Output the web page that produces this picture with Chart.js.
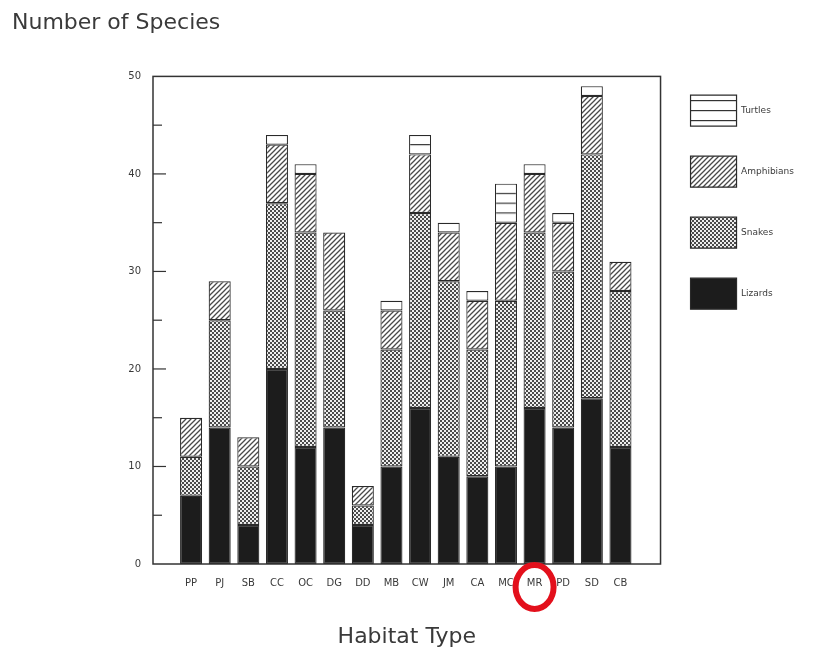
<!DOCTYPE html>
<html>
<head>
<meta charset="utf-8">
<script src="https://cdn.jsdelivr.net/npm/chart.js@4.4.1/dist/chart.umd.min.js"></script>
<style>
  body { margin: 0; background: #fff; }
  canvas { display: block; }
</style>
</head>
<body>
<canvas id="chart" width="818" height="654"></canvas>
<script>
const habitats = ["PP", "PJ", "SB", "CC", "OC", "DG", "DD", "MB", "CW", "JM", "CA", "MC", "MR", "PD", "SD", "CB"];
const lizards = [7, 14, 4, 20, 12, 14, 4, 10, 16, 11, 9, 10, 16, 14, 17, 12];
const snakes = [4, 11, 6, 17, 22, 12, 2, 12, 20, 18, 13, 17, 18, 16, 25, 16];
const amphibians = [4, 4, 3, 6, 6, 8, 2, 4, 6, 5, 5, 8, 6, 5, 6, 3];
const turtles = [0, 0, 0, 1, 1, 0, 0, 1, 2, 1, 1, 4, 1, 1, 1, 0];
const yTicks = [0, 10, 20, 30, 40, 50];
const circled = "MR";

const ink = "#1c1c1c";
const textCol = "#3a3a3a";
const fontFam = "'DejaVu Sans', sans-serif";

// small tile canvases for the fills
const makePattern = (w, h, paint) => {
  const c = document.createElement("canvas");
  c.width = w;
  c.height = h;
  const g = c.getContext("2d");
  paint(g, w, h);
  return g.createPattern(c, "repeat");
};

// checker of 2px cells, reads as mid grey like the scan
const dotted = makePattern(4, 4, (g, w, h) => {
  g.fillStyle = "#eeeeee";
  g.fillRect(0, 0, w, h);
  g.fillStyle = "#4a4a4a";
  g.fillRect(0, 0, 2, 2);
  g.fillRect(2, 2, 2, 2);
});

const hatched = makePattern(5, 5, (g, w, h) => {
  g.fillStyle = "#fff";
  g.fillRect(0, 0, w, h);
  g.strokeStyle = "#4a4a4a";
  g.lineWidth = 1.3;
  g.beginPath();
  g.moveTo(-1, h + 1);
  g.lineTo(w + 1, -1);
  g.moveTo(-1, 1);
  g.lineTo(1, -1);
  g.moveTo(w - 1, h + 1);
  g.lineTo(w + 1, h - 1);
  g.stroke();
});

// one line per species; stretched to one y unit once the scale is known
const striped = makePattern(4, 10, (g, w, h) => {
  g.fillStyle = "#fff";
  g.fillRect(0, 0, w, h);
  g.fillStyle = "#333";
  g.fillRect(0, 0, w, 1.2);
});

const pts = (arr) => arr.map((v, i) => ({ x: i, y: v }));

const series = [
  { label: "Lizards", data: pts(lizards), backgroundColor: ink },
  { label: "Snakes", data: pts(snakes), backgroundColor: dotted },
  { label: "Amphibians", data: pts(amphibians), backgroundColor: hatched },
  { label: "Turtles", data: pts(turtles), backgroundColor: striped },
].map((d) => ({
  ...d,
  borderColor: "#2a2a2a",
  borderWidth: 1.2,
  borderSkipped: false,
  categoryPercentage: 1,
  barPercentage: 0.77,
}));

const frame = {
  id: "frame",
  beforeDatasetsDraw(chart) {
    const y = chart.scales.y;
    const y0 = y.getPixelForValue(0);
    const unit = y0 - y.getPixelForValue(1);
    striped.setTransform(new DOMMatrix().translate(0, y0 - 0.6).scale(1, unit / 10));
  },
  afterDatasetsDraw(chart) {
    const { ctx, chartArea: a, scales } = chart;
    const y = scales.y;
    ctx.save();
    ctx.strokeStyle = "#333";
    ctx.lineWidth = 1.5;
    ctx.strokeRect(a.left, a.top, a.right - a.left, a.bottom - a.top);
    ctx.lineWidth = 1.2;
    for (const t of y.ticks) {
      if (t.value === 0 || t.value === 50) continue;
      const py = y.getPixelForValue(t.value);
      ctx.beginPath();
      ctx.moveTo(a.left, py);
      ctx.lineTo(a.left + (yTicks.includes(t.value) ? 13 : 9), py);
      ctx.stroke();
    }
    ctx.restore();
  },
  afterDraw(chart) {
    // red ring round one habitat label
    const { ctx, chartArea: a, scales } = chart;
    const cx = scales.x.getPixelForValue(habitats.indexOf(circled));
    ctx.save();
    ctx.strokeStyle = "#e3101c";
    ctx.lineWidth = 6;
    ctx.beginPath();
    ctx.ellipse(cx, a.bottom + 23, 19, 22, 0, 0, 2 * Math.PI);
    ctx.stroke();
    ctx.restore();
  },
};

new Chart(document.getElementById("chart"), {
  type: "bar",
  data: { datasets: series },
  options: {
    responsive: false,
    animation: false,
    layout: { padding: { left: 12, right: 14, top: 0, bottom: 0 } },
    plugins: {
      title: {
        display: true,
        text: "Number of Species",
        align: "start",
        color: textCol,
        font: { family: fontFam, size: 22, weight: "normal" },
        padding: { top: 10, bottom: 40 },
      },
      legend: {
        position: "right",
        align: "start",
        reverse: true,
        // empty title only pushes the keys down
        title: { display: true, text: "", font: { size: 1 }, padding: { top: 0, bottom: 64 } },
        labels: {
          boxWidth: 46,
          boxHeight: 31,
          padding: 30,
          color: textCol,
          font: { family: fontFam, size: 9 },
        },
      },
      tooltip: { enabled: false },
    },
    scales: {
      x: {
        type: "linear",
        stacked: true,
        offset: false,
        min: -1.33,
        max: 16.4,
        grid: { display: false, drawTicks: false },
        border: { display: false },
        afterBuildTicks: (s) => {
          s.ticks = habitats.map((_, i) => ({ value: i }));
        },
        afterFit: (s) => {
          s.height = 90;
        },
        ticks: {
          autoSkip: false,
          maxRotation: 0,
          padding: 13,
          color: textCol,
          font: { family: fontFam, size: 10 },
          callback: (v) => habitats[v] ?? "",
        },
        title: {
          display: true,
          text: "Habitat Type",
          color: textCol,
          font: { family: fontFam, size: 22 },
          padding: { top: 10, bottom: 4 },
        },
      },
      y: {
        stacked: true,
        min: 0,
        max: 50,
        grid: { display: false, drawTicks: false },
        border: { display: false },
        afterFit: (s) => {
          s.width = 141;
        },
        ticks: {
          stepSize: 5,
          padding: 12,
          color: textCol,
          font: { family: fontFam, size: 10 },
          callback: (v) => (yTicks.includes(v) ? v : ""),
        },
      },
    },
  },
  plugins: [frame],
});
</script>
</body>
</html>
